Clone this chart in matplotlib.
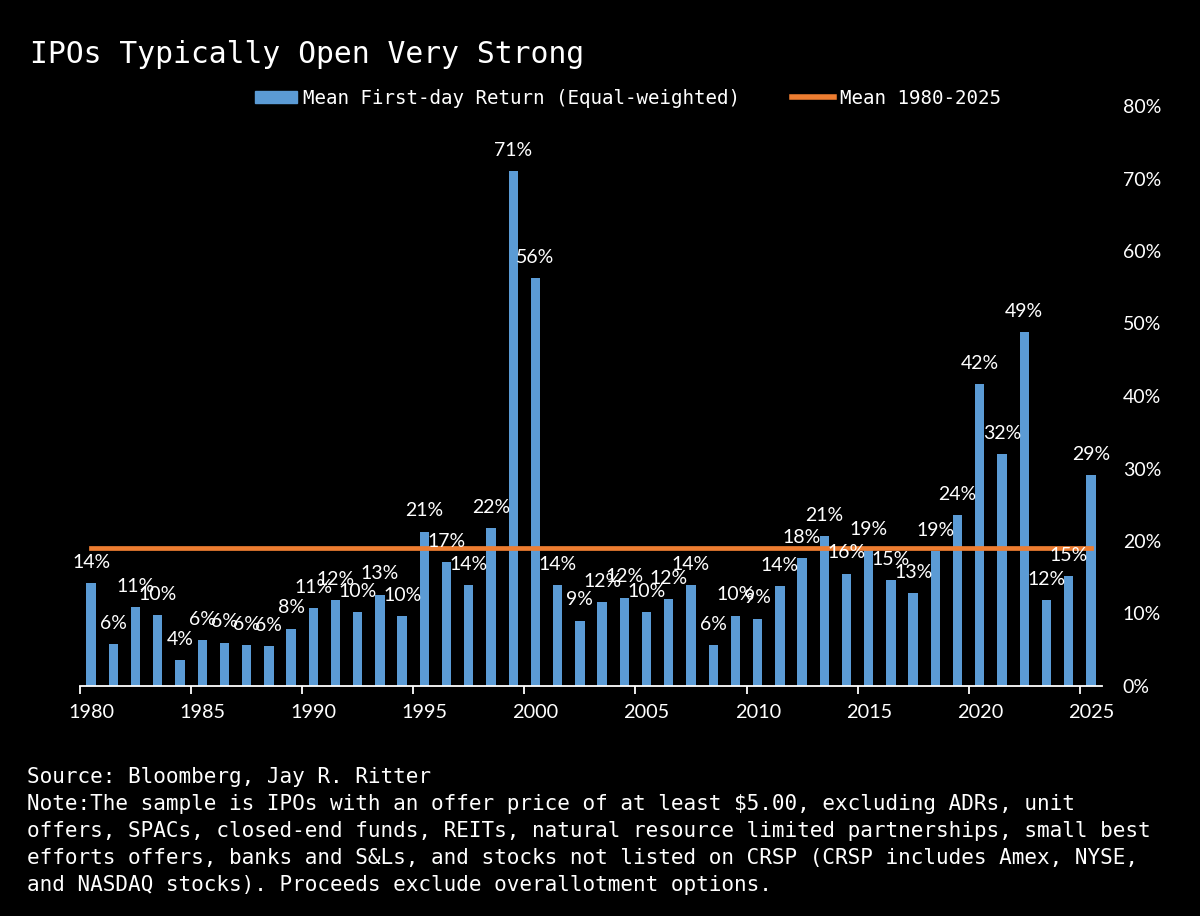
import numpy as np
import matplotlib
matplotlib.use("Agg")
import matplotlib.pyplot as plt
from matplotlib.patches import Patch
from matplotlib.lines import Line2D

# data
years = list(range(1980, 2026))
returns = [14.2, 5.8, 10.9, 9.8, 3.6, 6.3, 6.0, 5.6, 5.5, 7.9,
           10.7, 11.8, 10.2, 12.6, 9.6, 21.3, 17.1, 13.9, 21.8, 71.0,
           56.3, 13.9, 9.0, 11.6, 12.2, 10.2, 12.0, 13.9, 5.6, 9.7,
           9.3, 13.8, 17.6, 20.7, 15.5, 18.7, 14.6, 12.8, 18.6, 23.6,
           41.6, 32.0, 48.8, 11.8, 15.2, 29.1]
mean_all = 19.0
yticks = [0, 10, 20, 30, 40, 50, 60, 70, 80]

blue = "#5B9BD5"
orange = "#ED7D31"
mono = "DejaVu Sans Mono"
sans = "Lato"

fig = plt.figure(figsize=(12, 9.16), dpi=100, facecolor="black")
ax = fig.add_axes([80/1200, 1-686/916, (1102-80)/1200, (686-106)/916])
ax.set_facecolor("black")

x = np.arange(len(years))
ax.bar(x, returns, width=0.42, color=blue, zorder=2)
ax.plot([x[0], x[-1]], [mean_all, mean_all], color=orange, lw=3.4, zorder=3)

for xi, v in zip(x, returns):
    ax.annotate(f"{int(np.floor(v + 0.5))}%", (xi, v), xytext=(0, 11),
                textcoords="offset points", ha="center", va="baseline",
                color="white", fontsize=14, family=sans, zorder=4)

ax.set_xlim(-0.5, len(years) - 0.5)
ax.set_ylim(0, 80)

# year labels at bar centres, tick marks at bin edges
lab_idx = [i for i, y in enumerate(years) if y % 5 == 0]
ax.set_xticks(lab_idx)
ax.set_xticklabels([str(years[i]) for i in lab_idx], family=sans, fontsize=14.3, color="white")
ax.set_xticks([i - 0.5 for i in lab_idx], minor=True)
ax.tick_params(axis="x", which="major", length=0, pad=13)
ax.tick_params(axis="x", which="minor", length=6, width=1.3, color="white", direction="out")

ax.yaxis.tick_right()
ax.set_yticks(yticks)
ax.set_yticklabels([f"{t}%" for t in yticks], family=sans, fontsize=14, color="white")
ax.tick_params(axis="y", length=0, pad=15)
for lbl in ax.get_yticklabels():
    lbl.set_horizontalalignment("left")

for s in ["top", "left", "right"]:
    ax.spines[s].set_visible(False)
ax.spines["bottom"].set_color("white")
ax.spines["bottom"].set_linewidth(1.3)

handles = [Patch(color=blue), Line2D([0], [0], color=orange, lw=4)]
fig.legend(handles, ["Mean First-day Return (Equal-weighted)", "Mean 1980-2025"],
           loc="center left", bbox_to_anchor=(255/1200, 1-98/916), ncol=2,
           frameon=False, borderpad=0, borderaxespad=0, handlelength=2.2,
           handleheight=0.6, handletextpad=0.3, columnspacing=2.7,
           prop={"family": mono, "size": 13.8}, labelcolor="white")

fig.text(30/1200, 1-63/916, "IPOs Typically Open Very Strong", family=mono,
         fontsize=21.4, color="white", va="baseline")

footer = ["Source: Bloomberg, Jay R. Ritter",
          "Note:The sample is IPOs with an offer price of at least $5.00, excluding ADRs, unit",
          "offers, SPACs, closed-end funds, REITs, natural resource limited partnerships, small best",
          "efforts offers, banks and S&Ls, and stocks not listed on CRSP (CRSP includes Amex, NYSE,",
          "and NASDAQ stocks). Proceeds exclude overallotment options."]
for k, line in enumerate(footer):
    fig.text(27/1200, 1-(783 + 27*k)/916, line, family=mono, fontsize=15.1,
             color="white", va="baseline")

fig.savefig("out.png", dpi=100, facecolor="black")
